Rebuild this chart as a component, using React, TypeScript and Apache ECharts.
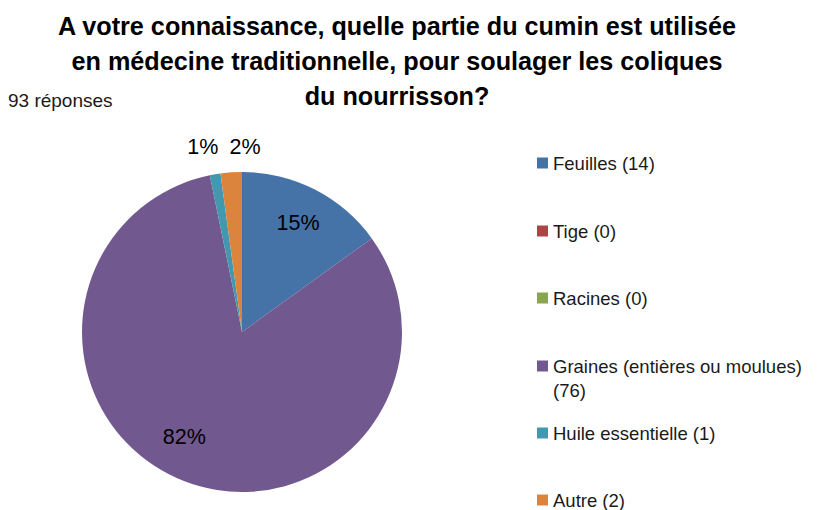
import React, { useEffect, useRef } from "react";
import * as echarts from "echarts";

const titleLines = [
  "A votre connaissance, quelle partie du cumin est utilisée",
  "en médecine traditionnelle, pour soulager les coliques",
  "du nourrisson?",
];
const responsesLabel = "93 réponses";
const categories = [
  "Feuilles",
  "Tige",
  "Racines",
  "Graines (entières ou moulues)",
  "Huile essentielle",
  "Autre",
];
const counts = [14, 0, 0, 76, 1, 2];
const colors = ["#4572A7", "#AA4643", "#89A54E", "#71588F", "#4198AF", "#DB843D"];

const FONT = "Liberation Sans";
const CENTER = [242, 332];
const labelOffsets: Record<string, number[]> = {
  "Graines (entières ou moulues)": [-13, -10],
  "Huile essentielle": [-7, 3],
  Autre: [16, 6],
};
const legendCenters = [163, 231, 298, 366, 433, 500];

export default function App() {
  const ref = useRef<HTMLDivElement>(null);
  useEffect(() => {
    if (!ref.current) return;
    const chart = echarts.init(ref.current, null, { renderer: "svg" });
    const baseData = categories.map((n, i) => ({
      name: n,
      value: counts[i],
      itemStyle: { color: colors[i] },
    }));
    const pct = (p: any) => Math.round(p.percent);
    const labelData = categories.map((n, i) => ({
      name: n,
      value: counts[i],
      label: labelOffsets[n] ? { offset: labelOffsets[n] } : undefined,
    }));
    const legends = categories.map((n, i) => {
      const multi = n.length > 20;
      return {
        data: [n],
        orient: "vertical",
        left: 537,
        top: multi ? legendCenters[i] - 36 : legendCenters[i] - 12,
        padding: 0,
        icon: "rect",
        itemWidth: 11,
        itemHeight: 11,
        selectedMode: false,
        formatter: (name: string) =>
          multi ? `\n${name}\n(${counts[i]})` : `${name} (${counts[i]})`,
        textStyle: {
          fontFamily: FONT,
          fontSize: 18.5,
          color: "#1a1a1a",
          lineHeight: 24,
        },
      };
    });
    chart.setOption({
      animation: false,
      backgroundColor: "#ffffff",
      title: [
        {
          text: titleLines.join("\n"),
          left: 397,
          top: 8,
          padding: 0,
          textAlign: "center",
          textStyle: {
            fontFamily: FONT,
            fontWeight: "bold",
            fontSize: 25.2,
            lineHeight: 35,
            color: "#000000",
          },
        },
        {
          text: responsesLabel,
          left: 8,
          top: 89,
          padding: 0,
          textStyle: {
            fontFamily: FONT,
            fontWeight: "normal",
            fontSize: 19,
            lineHeight: 22,
            color: "#1a1a1a",
          },
        },
      ],
      legend: legends,
      series: [
        {
          type: "pie",
          center: CENTER,
          radius: 160,
          startAngle: 90,
          clockwise: true,
          silent: true,
          label: { show: false },
          labelLine: { show: false },
          itemStyle: { borderWidth: 0 },
          emphasis: { disabled: true },
          data: baseData,
        },
        {
          type: "pie",
          center: CENTER,
          radius: [80, 160],
          startAngle: 90,
          clockwise: true,
          silent: true,
          itemStyle: { color: "transparent", borderWidth: 0 },
          emphasis: { disabled: true },
          labelLine: { show: false },
          label: {
            show: true,
            position: "inside",
            fontFamily: FONT,
            fontSize: 21.5,
            color: "#000000",
            formatter: (p: any) => (p.percent >= 5 ? `${pct(p)}%` : ""),
          },
          data: labelData,
        },
        {
          type: "pie",
          center: CENTER,
          radius: [176, 200],
          startAngle: 90,
          clockwise: true,
          silent: true,
          itemStyle: { color: "transparent", borderWidth: 0 },
          emphasis: { disabled: true },
          labelLine: { show: false },
          label: {
            show: true,
            position: "inside",
            fontFamily: FONT,
            fontSize: 21.5,
            color: "#000000",
            formatter: (p: any) =>
              p.value > 0 && p.percent < 5 ? `${pct(p)}%` : "",
          },
          data: labelData,
        },
      ],
    });
    return () => chart.dispose();
  }, []);
  return (
    <div
      ref={ref}
      style={{ position: "fixed", left: 0, top: 0, width: 817, height: 510 }}
    />
  );
}
